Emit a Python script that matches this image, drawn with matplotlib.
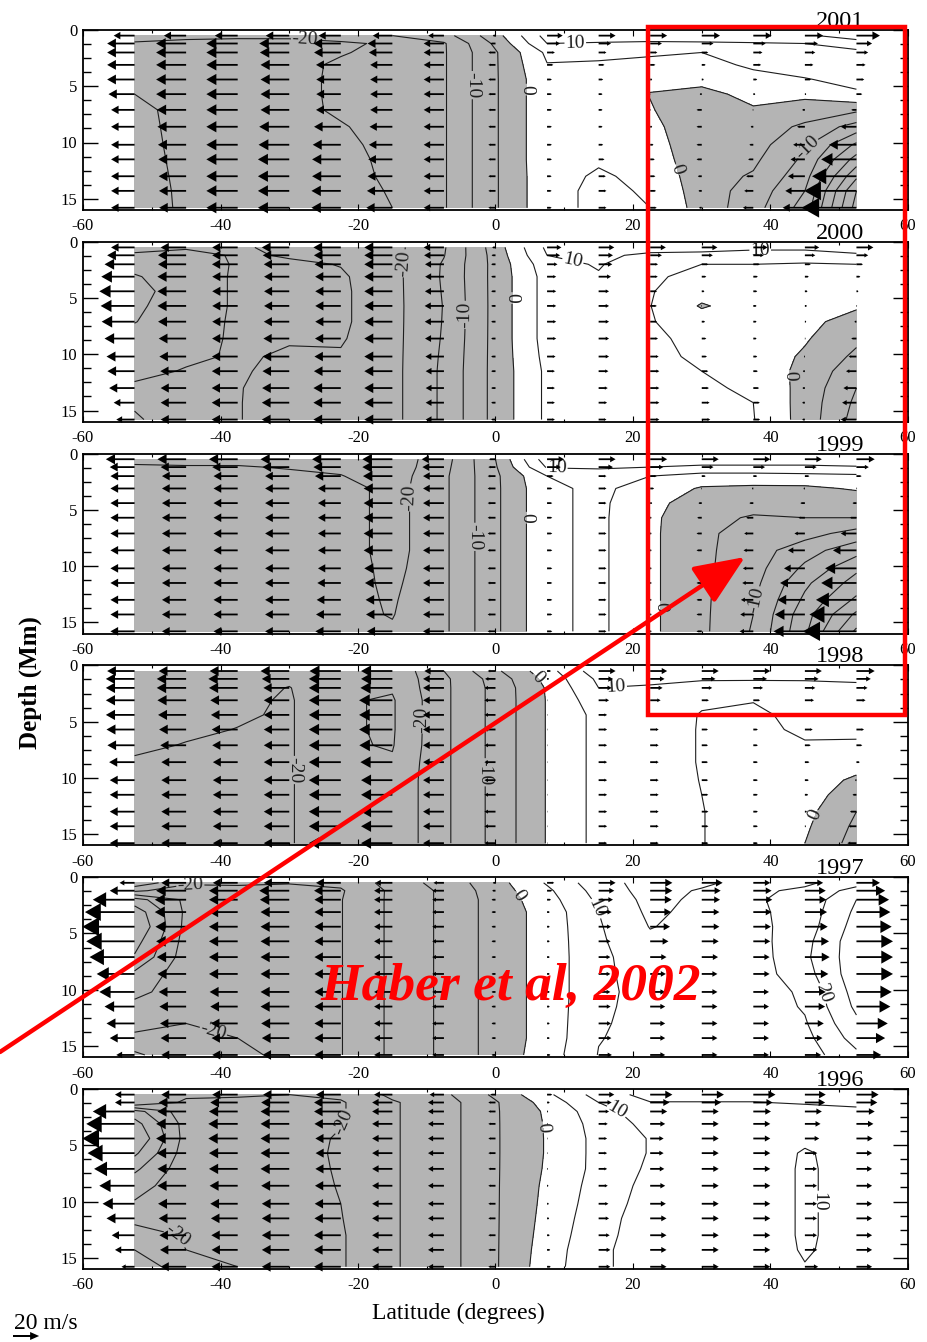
import numpy as np
import matplotlib
matplotlib.use("Agg")
import matplotlib.pyplot as plt
from matplotlib.patches import FancyArrow, Rectangle
from matplotlib.ticker import MultipleLocator

plt.rcParams['font.family'] = ['Liberation Serif', 'DejaVu Serif']

# ---------------- data ----------------
lats = [-52.5, -45, -37.5, -30, -22.5, -15, -7.5, 0, 7.5, 15, 22.5, 30, 37.5, 45, 52.5]
depths = [0.5, 1.2, 2.0, 3.1, 4.4, 5.7, 7.1, 8.6, 10.2, 11.5, 13.0, 14.3, 15.8]
years = ['2001', '2000', '1999', '1998', '1997', '1996']
xticks = [-60, -40, -20, 0, 20, 40, 60]
yticks = [0, 5, 10, 15]
plain_levels = [-45, -35, -25, -15, -5, 5, 15, 25, 35, 45]
label_levels = [-40, -30, -20, -10, 0, 10, 20, 30, 40]

# meridional flow (m/s), one list per latitude column, values by depth (top -> bottom)
v2001 = [
    [-16, -21, -21, -21, -21, -20, -18, -18, -18, -18, -18, -18, -18],
    [-17, -23, -23, -23, -23, -23, -22.5, -22, -21.6, -21.3, -21, -20.8, -20.7],
    [-17.5, -24, -24, -24, -24, -24, -24, -24, -24, -24, -24, -24, -24],
    [-18, -23, -22.5, -22, -22, -22, -22, -23, -23.5, -24, -24, -24, -24],
    [-17, -21, -20.5, -19, -18.8, -18.8, -19, -20.5, -21.5, -22, -22, -22.5, -22.5],
    [-15, -19, -18, -17, -17, -17, -17, -17.5, -18, -18.5, -19, -19.5, -20],
    [-12, -15.5, -15.5, -15.5, -15.5, -15.5, -15.5, -15.5, -15.5, -15.5, -15.5, -15.5, -15.5],
    [-2, -4, -5.5, -5.5, -5.5, -5.5, -5.5, -5.5, -5.5, -5.5, -5.5, -5.5, -5.5],
    [12, 10, 6, 4.8, 3.7, 3.7, 3.7, 3.7, 3.7, 3.7, 3.5, 3.5, 3.5],
    [13, 9.5, 6, 4.5, 3.5, 3, 3, 3, 3.5, 4.5, 5.5, 6, 6],
    [13, 9, 5.5, 4, 1.5, -0.2, 0.4, 1.5, 2.5, 3.5, 4, 4.5, 5],
    [14, 9, 5, 3, 1.5, -1.5, -4, -4, -4, -4, -3, -2.5, -2],
    [14, 9.5, 7, 6, 3, 1.5, -0.5, -2, -3, -4, -5.5, -7, -8],
    [14, 10, 8, 6.5, 4.8, 1, -2, -6, -9, -11, -13, -15, -17],
    [18, 12, 9, 7, 6, 4.5, -4, -12, -21, -27, -34, -40, -42],
]
v2000 = [
    [-18, -21, -23, -25.5, -27, -26, -25.2, -23, -21.5, -20.8, -19.5, -16, -14],
    [-19.5, -21.5, -21.5, -22, -22, -22, -21.5, -21, -20.5, -19.8, -19.5, -19.5, -19.5],
    [-19.5, -19.5, -19.7, -19.5, -19.5, -19.5, -19.5, -19.6, -19.7, -19.8, -19.9, -19.9, -19.9],
    [-21, -20.3, -19.5, -19.3, -19.3, -19.3, -19.5, -19.8, -20.3, -20.5, -20.8, -21, -21],
    [-21, -20.6, -20.1, -19.7, -19.6, -19.6, -19.6, -19.8, -20.2, -20.6, -21, -21, -21],
    [-21.5, -21.5, -21.5, -21.5, -21.5, -21.5, -21.5, -21.5, -21.5, -21.5, -21.5, -21.5, -21.5],
    [-15.5, -15.2, -14.5, -14.4, -14.6, -14.8, -14.7, -14.5, -14.2, -14, -14, -14, -14],
    [-2.5, -3, -3.3, -3.3, -3.3, -3.3, -3.3, -3.3, -3.3, -3.3, -3.3, -3.3, -3.3],
    [11, 10, 8, 7, 7, 7, 7, 7, 6.5, 6, 6, 6, 6],
    [12, 11, 10.5, 9.5, 8, 8, 8, 8, 8, 7.5, 7, 6.5, 6],
    [12, 9, 6, 5.8, 5.3, 5.1, 5.3, 6, 6.5, 7, 7, 7, 7],
    [12, 8.5, 5, 3.5, 2, -0.5, 2.5, 3.5, 4, 5, 5.5, 6, 6.5],
    [11, 8, 5, 3.5, 3, 2.5, 2.5, 2.5, 3, 3.5, 4.5, 5, 5.2],
    [11, 8, 4.5, 3, 2, 1.5, 1, 0.5, -0.7, -1.5, -1.8, -2, -2],
    [13, 9, 5, 3, 1.5, 0.5, -1.5, -4, -6, -8, -10, -11, -12],
]
v1999 = [
    [-22, -19, -18.5, -18.5, -18.5, -18.5, -18.5, -18.5, -18.5, -18.5, -18.5, -18.5, -18.5],
    [-22, -19.5, -18.5, -18.5, -18.5, -18.5, -18.5, -18.5, -18.5, -18.5, -18.5, -18.5, -18.5],
    [-22, -19.5, -18.5, -18.5, -18.5, -18.5, -18.5, -18.5, -18.5, -18.5, -18.5, -18.5, -18.5],
    [-22, -20.5, -18.5, -18.5, -18.5, -18.5, -18.5, -18.5, -18.5, -18.5, -18.5, -18.5, -18.5],
    [-22, -21, -19.8, -17.5, -17.5, -17.5, -17.5, -17.5, -17.5, -18, -18.5, -19, -19.5],
    [-23, -23, -22.5, -22, -22, -22, -22, -22, -21.5, -21, -20.5, -20.2, -19.5],
    [-17, -16.5, -16, -16, -16, -16, -16, -16, -16, -16, -16, -16, -16],
    [-5, -5.5, -6, -6, -6, -6, -6, -6, -6, -6, -6, -6, -6],
    [13, 10.5, 5, 4, 4, 4, 4, 4, 4, 4, 4, 4, 4],
    [13, 11, 6, 6, 6, 6, 6, 6, 6, 6, 6, 6, 6],
    [13, 10, 5, 3, 1.5, 1, 1, 1, 1, 1, 1, 1, 1],
    [13, 9, 3, -0.5, -2.5, -3.5, -4, -4, -4, -4, -4, -4, -4],
    [13, 9, 3, -1, -3, -5.5, -7, -7.5, -8, -8.5, -9.5, -10, -10.5],
    [13, 9, 3.5, -1, -3.5, -5, -8, -13, -16, -19, -21, -23, -24],
    [14, 9.5, 4, 0.5, -3, -5, -12, -18, -24, -27, -31, -36, -41],
]
v1998 = [
    [-21, -22, -22, -22, -22, -21.5, -20.8, -19.5, -19, -19, -19, -19, -19],
    [-21, -22.5, -22.5, -22, -21.5, -20.7, -19.8, -19, -19, -19, -19, -19, -19],
    [-21.5, -22.5, -22, -21, -20.5, -19.9, -19.5, -19, -19, -19, -19, -19, -19],
    [-22, -21, -19.8, -19.5, -19.5, -19.5, -19.5, -19.5, -19.5, -19.5, -19.5, -19.5, -19.5],
    [-24, -24.5, -24.5, -24.5, -24.5, -24.5, -24.5, -24.5, -24.5, -24.5, -24.5, -24.5, -24.5],
    [-24, -24, -24.5, -25.5, -25.5, -25.5, -25.3, -24.5, -24, -24, -24, -24, -24],
    [-15, -16, -16, -16, -16, -16, -16, -16, -16, -16, -16, -16, -16],
    [-6, -8, -8.5, -8.5, -8.5, -8.5, -8.5, -8.5, -8.5, -8.5, -8.5, -8.5, -8.5],
    [3, 1.5, 0.5, 0.3, 0.3, 0.3, 0.3, 0.3, 0.3, 0.3, 0.3, 0.3, 0.3],
    [13, 11, 10, 8, 6.5, 6.5, 6.5, 6.5, 6.5, 6.5, 6.5, 6.5, 6.5],
    [13, 11, 9.5, 8, 7, 6.5, 6.5, 6.5, 6.5, 6.5, 6.5, 6.5, 6.5],
    [13, 10.5, 8, 5.5, 4.8, 4.8, 4.8, 4.8, 4.9, 5, 5.1, 5.1, 5.1],
    [13, 10.5, 7.5, 5.2, 4, 3.5, 3.5, 3.5, 3.5, 3.5, 3.5, 3.5, 3.5],
    [13, 10.5, 8, 7, 6.5, 6, 4.5, 3.5, 3, 2.5, 1.5, 0.8, 0],
    [14, 11, 8.5, 7, 6.5, 5.8, 4.5, 2.5, -1, -3, -5, -6, -7],
]
v1997 = [
    [-11.5, -19, -32, -38, -40, -37, -34.5, -29, -27, -23, -21.5, -19, -14],
    [-19, -23, -24, -24, -23.5, -23, -22.5, -22, -21, -20.5, -20, -19.5, -19],
    [-19, -22, -22, -22, -22, -22, -22, -22, -21.5, -21, -20.5, -20, -19.5],
    [-19.5, -23, -22.5, -22, -22, -22, -22, -22, -22, -22, -21.5, -21, -20.5],
    [-19, -20.5, -20.2, -20.2, -20.2, -20.2, -20.2, -20.2, -20.2, -20.2, -20.2, -20.2, -20.2],
    [-13, -14, -14, -14, -14, -14, -14, -14, -14, -14, -14, -14, -14],
    [-8, -9, -9, -9, -9, -9, -9, -9, -9, -9, -9, -9, -9],
    [-2, -2.5, -3, -3, -3, -3, -3, -3, -3, -3, -3, -3, -3],
    [5.5, 4, 3, 2, 2, 2, 2, 2, 2, 2, 2, 2, 2.5],
    [13, 12, 11, 10, 9.5, 9.2, 9, 9, 9, 9.2, 9.5, 9.8, 10.2],
    [17, 17, 16.5, 16, 15.2, 14, 12.5, 12, 11.5, 11.5, 11.5, 11.5, 11.5],
    [16, 14.5, 14, 13.5, 13.5, 13, 12.5, 12, 12, 12, 12, 12, 12],
    [13, 14, 14.5, 14, 13.5, 13, 12.5, 12.5, 12, 12, 12, 12, 12],
    [14, 16, 16.5, 17, 17.5, 18.5, 19, 18, 16, 15.5, 14.5, 13.5, 12.5],
    [18, 22, 25, 26, 27, 28, 28, 28, 27, 26, 24, 22, 19],
]
v1996 = [
    [-15, -15, -32, -37, -40, -36, -31, -27, -24.5, -21.5, -17.5, -15, -10],
    [-19, -21, -22, -23, -23, -22.5, -22, -22, -21.5, -21, -20.5, -20, -19.5],
    [-19.5, -21, -22, -22.5, -22.5, -22, -22, -21.5, -21, -20.5, -20.2, -20, -20],
    [-20, -21.5, -22, -22, -22, -22, -22, -21.5, -21, -21, -21, -21, -21],
    [-19, -20.5, -20.5, -20.2, -19.5, -19.3, -19.5, -19.8, -20, -20.2, -20.5, -20.5, -20.5],
    [-14, -15.5, -15.5, -15.5, -15.5, -15.5, -15.5, -15.5, -15.5, -15.5, -15.5, -15.5, -15.5],
    [-11, -12.2, -12.2, -12.2, -12.2, -12.2, -12.2, -12.2, -12.2, -12.2, -12.2, -12.2, -12.2],
    [-4, -5.5, -5.5, -5.5, -5.5, -5.5, -5.5, -5.5, -5.5, -5.5, -5.5, -5.5, -5.5],
    [4, 2, 0.8, 0.5, 0.4, 0.4, 0.6, 1, 1.3, 1.6, 2, 2.4, 2.8],
    [12, 10, 8, 7, 6.5, 6.5, 6.5, 7, 7.5, 8, 8.5, 9, 9],
    [17, 14.8, 13, 11.5, 10.3, 10.3, 10.8, 11.5, 12, 12.5, 12.5, 12.5, 12.5],
    [17, 14.8, 13, 13, 13, 13, 13, 13, 13, 13, 13, 13, 13],
    [17, 14.8, 13.5, 13, 13, 13, 13, 13, 13, 13, 13, 13, 13],
    [16, 15.5, 13, 12, 11, 9.5, 9.3, 9.3, 9.3, 9.3, 9.3, 9.5, 10.2],
    [17, 16, 14, 13, 12.5, 12, 12, 12, 12, 12, 12, 12, 12],
]
flows = [v2001, v2000, v1999, v1998, v1997, v1996]
scale_speed = 20  # m/s for the reference arrow

# approximate spots (latitude, depth) of the contour labels in each panel
label_spots = [
    [(-27.7, 0.8), (-3.4, 4.9), (4.3, 5.3), (11.6, 1.0), (26.4, 12.4), (45.7, 10.6)],
    [(-13.5, 1.9), (-4.2, 6.5), (1.6, 5.0), (10.9, 2.7), (38.5, 0.7), (42.8, 11.9)],
    [(-12.9, 3.9), (-2.7, 7.4), (4.5, 5.7), (8.9, 1.7), (24.7, 13.6), (37.0, 12.9)],
    [(-30.0, 9.3), (-9.5, 4.8), (-1.3, 9.5), (5.3, 1.7), (17.6, 2.4), (46.5, 13.3)],
    [(-44.4, 0.9), (-39.0, 9.3), (2.6, 2.0), (13.7, 3.1), (49.9, 10.0)],
    [(-22.6, 2.9), (-39.1, 8.1), (7.0, 3.4), (17.6, 2.0), (46.0, 10.0)],
]

# ---------------- style / layout ----------------
W, H = 928, 1342
K = 0.19                      # degrees of latitude per m/s for arrows
PXX = 825 / 120.0             # pixels per degree
PXY = 180 / 16.0              # pixels per Mm
GRAY = '#b4b4b4'
LINE = '#1e1e1e'

fig = plt.figure(figsize=(W / 100, H / 100), dpi=100)


def arrow(ax, x, y, v, lw_data, z=4, color='black'):
    dx = v * K
    L = abs(dx)
    if L < 1e-3:
        return
    hl = 0.32 * L
    hw = max(0.36 * L * PXX / PXY, lw_data)
    ax.add_patch(FancyArrow(x, y, dx, 0, width=lw_data, head_width=hw, head_length=hl,
                            length_includes_head=True, color=color, lw=0, zorder=z,
                            clip_on=False))


for k, (year, V) in enumerate(zip(years, flows)):
    top = 30 + k * 211.8
    ax = fig.add_axes([83 / W, 1 - (top + 180) / H, 825 / W, 180 / H])
    ax.set_xlim(-60, 60)
    ax.set_ylim(16, 0)
    Z = np.array(V, dtype=float).T   # (depth, lat)
    ax.contourf(lats, depths, Z, levels=[-200, 0], colors=[GRAY], zorder=1)
    ax.contour(lats, depths, Z, levels=plain_levels, colors=LINE,
               linewidths=0.8, linestyles='solid', zorder=2)
    cs = ax.contour(lats, depths, Z, levels=label_levels, colors=LINE,
                    linewidths=0.8, linestyles='solid', zorder=2)
    ax.clabel(cs, fmt='%d', fontsize=14, inline=True, inline_spacing=1,
              manual=label_spots[k])
    for i, d in enumerate(depths):
        for j, la in enumerate(lats):
            arrow(ax, la, d, Z[i, j], 0.16)
    ax.set_xticks(xticks)
    ax.set_xticklabels([str(t) for t in xticks])
    ax.set_yticks(yticks)
    ax.xaxis.set_minor_locator(MultipleLocator(10))
    ax.yaxis.set_minor_locator(MultipleLocator(1.25))
    ax.tick_params(which='both', direction='in', top=True, right=True, labelsize=12)
    ax.tick_params(axis='y', which='major', length=11, width=1.0, pad=4)
    ax.tick_params(axis='y', which='minor', length=5.5, width=1.0)
    ax.tick_params(axis='x', which='major', length=4, width=0.8, pad=6)
    ax.tick_params(axis='x', which='minor', length=2.5, width=0.8)
    for s in ax.spines.values():
        s.set_linewidth(1.3)
    ax.text(0.918, 1 + 3 / 180, year, transform=ax.transAxes, ha='center', va='baseline',
            fontsize=17.5)

fig.text(30 / W, 1 - 683 / H, 'Depth (Mm)', rotation=90, fontweight='bold', fontsize=18,
         ha='center', va='center')
fig.text(458 / W, 1 - 1313 / H, 'Latitude (degrees)', fontsize=17, ha='center', va='center')

# overlay in pixel coordinates
ov = fig.add_axes([0, 0, 1, 1], zorder=10)
ov.set_xlim(0, W)
ov.set_ylim(H, 0)
ov.axis('off')
ov.text(14, 1329, '%d m/s' % scale_speed, fontsize=17, ha='left', va='baseline')
Lpx = scale_speed * K * PXX
ov.add_patch(FancyArrow(13, 1336, Lpx, 0, width=2, head_width=8, head_length=9,
                        length_includes_head=True, color='black', lw=0))
ov.add_patch(Rectangle((648, 27), 257, 688, fill=False, ec='red', lw=3.2, zorder=12))
ov.annotate('', xy=(745, 557), xytext=(0, 1052),
            arrowprops=dict(arrowstyle='-|>,head_length=1.3,head_width=0.55', color='red',
                            lw=3.2, mutation_scale=24, shrinkA=0, shrinkB=0), zorder=12)
ov.text(511, 1000, 'Haber et al, 2002', color='red', fontsize=38.5, fontweight='bold',
        fontstyle='italic', ha='center', va='baseline', zorder=13)

fig.savefig('out.png', dpi=100)
